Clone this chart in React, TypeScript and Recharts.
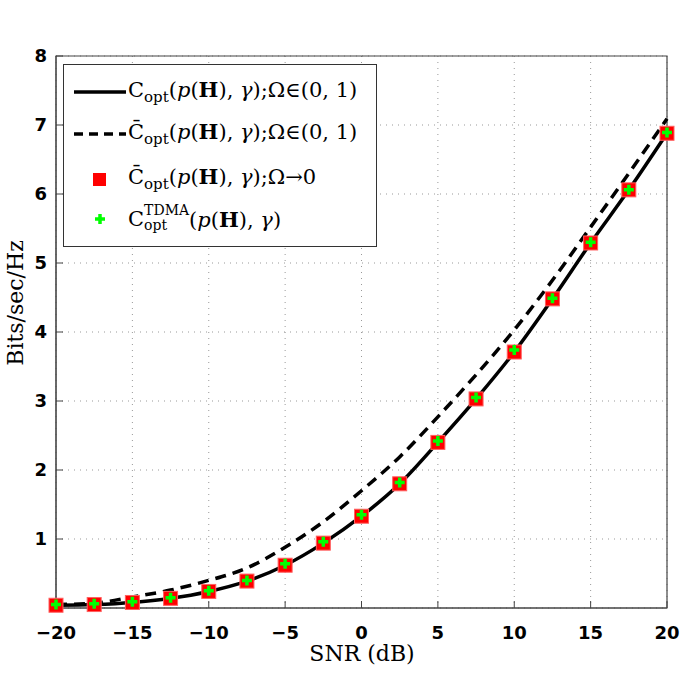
import React from "react";
import {
  LineChart,
  Line,
  XAxis,
  YAxis,
  CartesianGrid,
  ReferenceArea,
} from "recharts";

// SNR sample points (dB)
const snr = [-20, -17.5, -15, -12.5, -10, -7.5, -5, -2.5, 0, 2.5, 5, 7.5, 10, 12.5, 15, 17.5, 20];
// C_opt, Omega in (0,1) - solid line
const capacity = [0.04, 0.05, 0.08, 0.14, 0.24, 0.39, 0.62, 0.94, 1.33, 1.8, 2.4, 3.03, 3.71, 4.48, 5.29, 6.06, 6.88];
// C-bar_opt, Omega in (0,1) - dashed line
const capacityBar = [0.05, 0.07, 0.16, 0.26, 0.4, 0.58, 0.88, 1.25, 1.7, 2.19, 2.77, 3.38, 4.03, 4.75, 5.52, 6.3, 7.09];
// C-bar_opt, Omega -> 0 - red squares
const capacityLimit = [0.04, 0.05, 0.08, 0.14, 0.24, 0.39, 0.62, 0.94, 1.33, 1.8, 2.4, 3.03, 3.71, 4.48, 5.29, 6.06, 6.88];
// C_opt^TDMA - green plus
const capacityTdma = [0.05, 0.06, 0.09, 0.15, 0.25, 0.4, 0.64, 0.96, 1.35, 1.82, 2.42, 3.05, 3.74, 4.49, 5.3, 6.06, 6.89];

const xTicks = [-20, -15, -10, -5, 0, 5, 10, 15, 20];
const yTicks = [1, 2, 3, 4, 5, 6, 7, 8];

const data = snr.map((x, i) => ({
  x,
  solid: capacity[i],
  dashed: capacityBar[i],
  square: capacityLimit[i],
  plus: capacityTdma[i],
}));

const SERIF = "'DejaVu Serif', 'Liberation Serif', serif";
const SANS = "'DejaVu Sans', sans-serif";

const fmt = (v: number) => (v < 0 ? "\u2212" + Math.abs(v) : String(v));

const Square = (props: any) => {
  const { cx, cy, index } = props;
  if (cx == null || cy == null) return <g key={`sq-${index}`} />;
  return (
    <rect
      key={`sq-${index}`}
      x={cx - 7}
      y={cy - 7}
      width={14}
      height={14}
      fill="#ff0000"
      stroke="#ff6060"
      strokeWidth={1}
    />
  );
};

const Plus = (props: any) => {
  const { cx, cy, index } = props;
  if (cx == null || cy == null) return <g key={`pl-${index}`} />;
  return (
    <path
      key={`pl-${index}`}
      d={`M${cx - 5},${cy}H${cx + 5}M${cx},${cy - 5}V${cy + 5}`}
      stroke="#00ff00"
      strokeWidth={3.5}
      fill="none"
    />
  );
};

const Copt = ({ bar }: { bar?: boolean }) => (
  <span>
    {bar ? "C\u0304" : "C"}
    <sub style={{ fontSize: 15 }}>opt</sub>
  </span>
);

const Args = () => (
  <span>
    (<i>p</i>(<b>H</b>), <i>γ</i>)
  </span>
);

const legendRows = [
  {
    key: "solid",
    icon: (
      <svg width={52} height={12}>
        <line x1={0} y1={6} x2={52} y2={6} stroke="#000" strokeWidth={3.5} />
      </svg>
    ),
    label: (
      <>
        <Copt />
        <Args />
        ;Ω∈(0, 1)
      </>
    ),
  },
  {
    key: "dashed",
    icon: (
      <svg width={52} height={12}>
        <line x1={0} y1={6} x2={52} y2={6} stroke="#000" strokeWidth={3.5} strokeDasharray="9 6" />
      </svg>
    ),
    label: (
      <>
        <Copt bar />
        <Args />
        ;Ω∈(0, 1)
      </>
    ),
  },
  {
    key: "square",
    icon: (
      <svg width={52} height={14}>
        <rect x={19} y={1} width={13} height={13} fill="#ff0000" />
      </svg>
    ),
    label: (
      <>
        <Copt bar />
        <Args />
        ;Ω→0
      </>
    ),
  },
  {
    key: "plus",
    icon: (
      <svg width={52} height={14}>
        <path d="M21,7H31M26,2V12" stroke="#00ff00" strokeWidth={3.5} />
      </svg>
    ),
    label: (
      <span style={{ display: "inline-flex", alignItems: "center" }}>
        C
        <span
          style={{
            display: "inline-flex",
            flexDirection: "column",
            fontSize: 14,
            lineHeight: "15px",
            marginTop: -2,
          }}
        >
          <span>TDMA</span>
          <span>opt</span>
        </span>
        <Args />
      </span>
    ),
  },
];

const rowTops = [13, 55, 100, 140];

export default function App() {
  return (
    <div
      style={{
        position: "absolute",
        left: 0,
        top: 0,
        width: 685,
        height: 687,
        background: "#fff",
      }}
    >
      <LineChart
        width={685}
        height={687}
        data={data}
        margin={{ top: 56, right: 18, bottom: 49, left: 16 }}
      >
        <CartesianGrid stroke="#999" strokeDasharray="1 5" />
        <XAxis
          dataKey="x"
          type="number"
          domain={[-20, 20]}
          ticks={xTicks}
          tickFormatter={fmt}
          height={30}
          tickSize={-7}
          tickMargin={25}
          tickLine={{ stroke: "#444" }}
          axisLine={{ stroke: "#444" }}
          tick={{ fill: "#000", fontSize: 18, fontWeight: "bold", fontFamily: SANS }}
        />
        <YAxis
          type="number"
          domain={[0, 8]}
          ticks={yTicks}
          width={40}
          tickSize={-7}
          tickMargin={16}
          tickLine={{ stroke: "#444" }}
          axisLine={{ stroke: "#444" }}
          tick={{ fill: "#000", fontSize: 18, fontWeight: "bold", fontFamily: SANS }}
        />
        <ReferenceArea
          x1={-20}
          x2={20}
          y1={0}
          y2={8}
          fill="none"
          stroke="#444"
          strokeWidth={1.2}
          ifOverflow="visible"
        />
        <Line
          dataKey="dashed"
          type="monotone"
          stroke="#000"
          strokeWidth={3.5}
          strokeDasharray="11 7"
          dot={false}
          isAnimationActive={false}
        />
        <Line
          dataKey="solid"
          type="monotone"
          stroke="#000"
          strokeWidth={3.5}
          dot={false}
          isAnimationActive={false}
        />
        <Line
          dataKey="square"
          stroke="none"
          dot={Square}
          activeDot={false}
          isAnimationActive={false}
        />
        <Line
          dataKey="plus"
          stroke="none"
          dot={Plus}
          activeDot={false}
          isAnimationActive={false}
        />
      </LineChart>

      <div
        style={{
          position: "absolute",
          left: 63,
          top: 64,
          width: 312,
          height: 181,
          border: "1px solid #333",
          background: "#fff",
          fontFamily: SERIF,
          fontSize: 21,
          color: "#000",
        }}
      >
        {legendRows.map((r, i) => (
          <div
            key={r.key}
            style={{
              position: "absolute",
              left: 10,
              top: rowTops[i],
              height: 28,
              display: "flex",
              alignItems: "center",
              whiteSpace: "nowrap",
            }}
          >
            <span style={{ width: 54, display: "inline-flex" }}>{r.icon}</span>
            <span>{r.label}</span>
          </div>
        ))}
      </div>

      <div
        style={{
          position: "absolute",
          left: 0,
          width: 724,
          top: 641,
          textAlign: "center",
          fontFamily: SERIF,
          fontSize: 22,
        }}
      >
        SNR (dB)
      </div>
      <div
        style={{
          position: "absolute",
          left: 15,
          top: 303,
          transform: "translate(-50%, -50%) rotate(-90deg)",
          fontFamily: SERIF,
          fontSize: 22,
          whiteSpace: "nowrap",
        }}
      >
        Bits/sec/Hz
      </div>
    </div>
  );
}
